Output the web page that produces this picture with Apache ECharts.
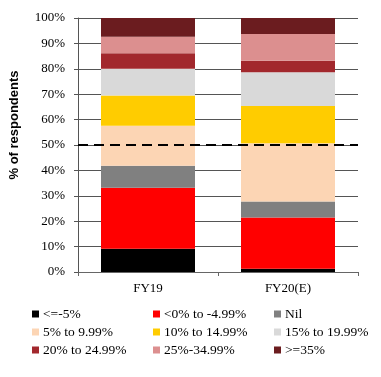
<!DOCTYPE html>
<html>
<head>
<meta charset="UTF-8">
<script src="https://cdn.jsdelivr.net/npm/echarts@6/dist/echarts.min.js"></script>
<style>
  html, body { margin: 0; padding: 0; background: #fff; }
  #chart { width: 381px; height: 377px; }
</style>
</head>
<body>
<div id="chart"></div>
<script>
// categories and series (percent of respondents)
const categories = ['FY19', 'FY20(E)'];
const seriesNames = ['<=-5%', '<0% to -4.99%', 'Nil', '5% to 9.99%', '10% to 14.99%',
                     '15% to 19.99%', '20% to 24.99%', '25%-34.99%', '>=35%'];
const le_m5   = [9.2, 1.3];
const m0_m5   = [24.0, 20.2];
const nil     = [8.6, 6.3];
const p5_10   = [15.8, 22.9];
const p10_15  = [11.9, 14.7];
const p15_20  = [10.5, 13.2];
const p20_25  = [6.1, 4.6];
const p25_35  = [6.5, 10.5];
const ge35    = [7.4, 6.3];
const yTicks  = [0, 10, 20, 30, 40, 50, 60, 70, 80, 90, 100];
const refLine = 50;

const colors = ['#000000', '#ff0000', '#808080', '#fcd5b4', '#ffcc00',
                '#d9d9d9', '#a2282d', '#dc8f8f', '#6b1c1f'];
const values = [le_m5, m0_m5, nil, p5_10, p10_15, p15_20, p20_25, p25_35, ge35];

const serif = '"Liberation Serif", "DejaVu Serif", serif';

const series = seriesNames.map((name, i) => ({
  name: name,
  type: 'bar',
  stack: 'total',
  barWidth: 94,
  itemStyle: { color: colors[i] },
  data: values[i]
}));
// dashed 50% reference line
series[0].markLine = {
  silent: true,
  symbol: 'none',
  label: { show: false },
  lineStyle: { color: '#000', type: [10, 6], width: 2 },
  data: [{ yAxis: refLine }]
};

// legend in 3 columns
const legendCols = [0, 1, 2].map(c => ({
  orient: 'vertical',
  left: [32, 153, 274][c],
  top: 307,
  padding: 0,
  itemWidth: 7,
  itemHeight: 7,
  itemGap: 4,
  icon: 'rect',
  textStyle: { fontFamily: serif, fontSize: 13.5, color: '#000', padding: [0, 0, 0, -1] },
  data: [seriesNames[c], seriesNames[c + 3], seriesNames[c + 6]]
}));

const chart = echarts.init(document.getElementById('chart'), null, { renderer: 'canvas' });
chart.setOption({
  animation: false,
  backgroundColor: '#fff',
  legend: legendCols,
  grid: { left: 77, right: 23, top: 18, bottom: 105 },
  xAxis: {
    type: 'category',
    data: categories,
    axisLine: { lineStyle: { color: '#666' } },
    axisTick: { show: true, length: 4, lineStyle: { color: '#666' } },
    axisLabel: { fontFamily: serif, fontSize: 13, color: '#000', margin: 10 }
  },
  yAxis: {
    type: 'value',
    min: yTicks[0],
    max: yTicks[yTicks.length - 1],
    interval: 10,
    name: '% of respondents',
    nameLocation: 'middle',
    nameGap: 57,
    nameTextStyle: {
      fontFamily: 'Liberation Sans, Arial, sans-serif', fontWeight: 'bold', fontSize: 13, color: '#000',
      padding: [0, 0, 0, 40]
    },
    axisLine: { show: true, lineStyle: { color: '#555' } },
    axisTick: { show: true, length: 4, lineStyle: { color: '#555' } },
    splitLine: { lineStyle: { color: '#555', width: 1 } },
    axisLabel: { formatter: '{value}%', fontFamily: serif, fontSize: 13, color: '#000', margin: 13 }
  },
  series: series
});
</script>
</body>
</html>
